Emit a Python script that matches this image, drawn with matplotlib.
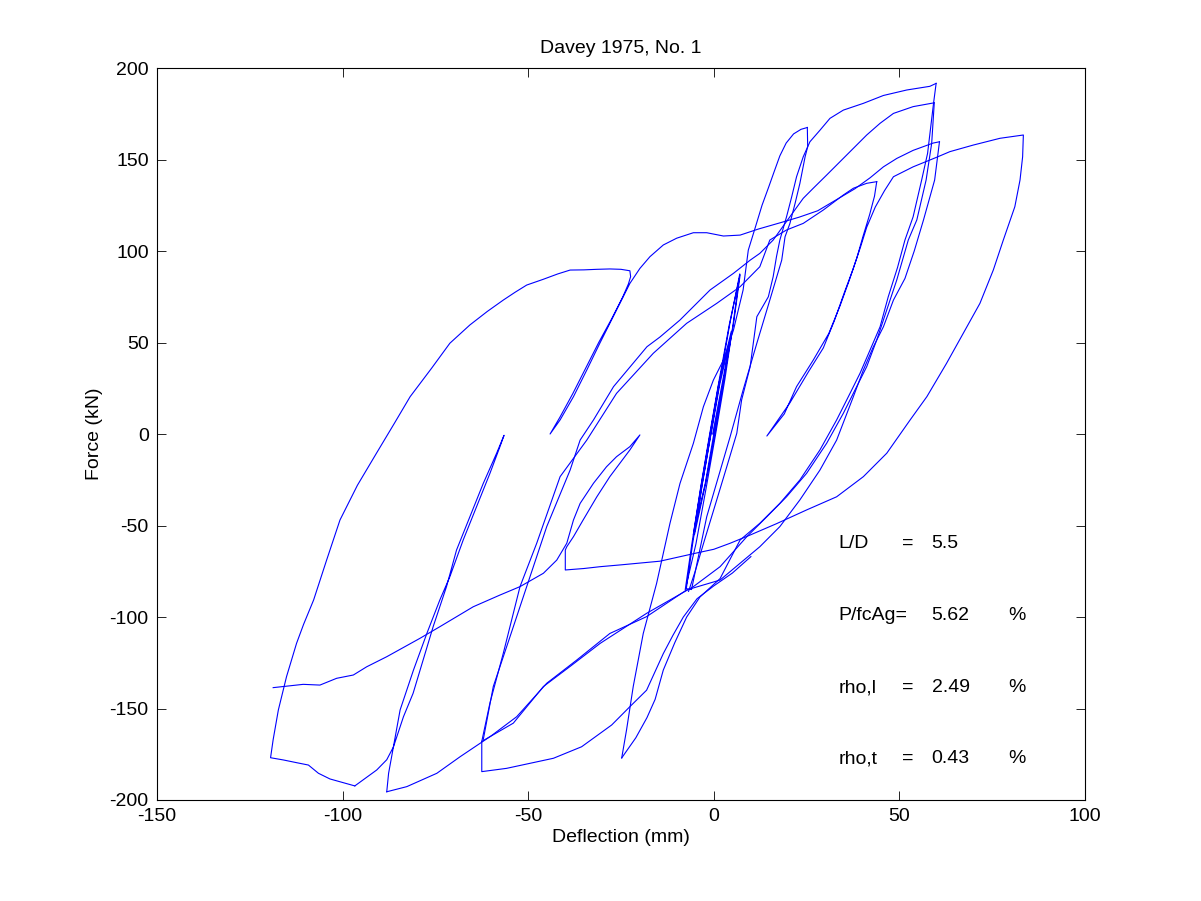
import matplotlib
matplotlib.use("Agg")
import matplotlib.pyplot as plt

plt.rcParams["font.family"] = ["Liberation Sans", "DejaVu Sans"]
plt.rcParams["font.size"] = 14
plt.rcParams["axes.unicode_minus"] = False

# hysteresis branches, deflection (mm) / force (kN)
# small cycles around the origin
small_x = [-0.3, 4.9, 1.6, -3.1, -5.2, -2.2, 0.3, 2.5, 4.7, 1.3, -1.0, -3.3, -5.5,
           -2.3, 0.0, 2.7, 5.3, 7.1, 4.2, 1.5, -1.1, -3.6, -5.9, -7.7, -4.8, -2.1,
           0.5, 3.0, 5.2, 7.0, 4.3, 1.7, -0.8, -3.3, -5.7, -7.4]
small_y = [0, 56, 27, -27, -55, -27, 0, 27, 56, 27, 0, -27, -55,
           -27, 0, 30, 60, 87, 60, 30, 0, -30, -60, -85.2, -60, -30,
           0, 30, 60, 87.5, 60, 30, 0, -30, -60, -84.5]

# load up to +25 mm
p25_up_x = [-7.4, -6.0, -1.9, 4.4, 7.9, 11.6, 15.1, 18.3, 19.2, 20.5, 21.9, 23.2,
            24.6, 25.3, 25.2]
p25_up_y = [-84.5, -85, -45.2, -1.5, 24, 49.6, 73.2, 95, 107.8, 115, 126, 137,
            151.5, 157, 167.5]

# unload from +25 down to -25
p25_dn_x = [25.2, 23.5, 21.5, 19.5, 17.8, 16.2, 14.8, 13.0, 11.2, 9.3, 7.9, 5.3, 2.6,
            -0.1, -2.8, -5.5, -9.1, -11.8, -15.4, -19.0, -21.7, -23.5, -24.8]
p25_dn_y = [167.5, 166.5, 164, 159, 152, 143, 135, 125, 113, 100.5, 78.7, 56.8, 40.4,
            29.5, 14.9, -5.1, -27, -48.8, -81.6, -109, -138, -161.7, -177]

# reload from -25 to the first +60 peak
m25_up_x = [-24.8, -21.0, -18.0, -15.8, -13.6, -10.5, -7.3, -3.7, 1.7, 4.5, 7.1, 12.4,
            17.8, 23.2, 28.6, 33.1, 36.7, 39.4, 42.1, 44.8, 47.0, 49.5, 51.5, 53.7,
            56.0, 57.6, 59.2, 59.9]
m25_up_y = [-177, -166, -155, -145, -129, -114, -100, -89, -79, -68, -57.9, -48.8,
            -37.9, -25.1, -8.7, 7.7, 22.2, 33.2, 45.9, 58.6, 75, 91, 106, 118.7,
            138.8, 153.4, 180.7, 191.6]

# unload from the first +60 peak
p60a_dn_x = [59.9, 58.2, 52.0, 45.7, 40.3, 34.9, 31.3, 28.6, 25.9, 24.1, 22.3, 21.0,
             19.6, 17.8, 16.9, 16.0, 14.7, 11.6, 9.8, 7.5, 6.2, 3.5, 0.8, -2.5, -5.0, -6.8]
p60a_dn_y = [191.6, 190, 188, 185, 180.7, 177, 172.5, 166, 159.7, 151.5, 140.6, 129.7,
             118.7, 106, 97, 86, 75, 64.1, 36.8, 18.6, 0.4, -17.9, -36, -58, -75, -86]

# second +60 peak, down to the -62 corner
p60b_dn_x = [59.4, 53.7, 48.4, 44.8, 41.2, 37.6, 34.0, 30.4, 26.8, 24.1, 20.5, 16.0,
             12.4, 9.8, 5.3, -1.0, -9.1, -14.5, -18.0, -27.0, -32.4, -36.0, -38.7,
             -45.0, -50.4, -54.9, -59.4, -62.1]
p60b_dn_y = [181, 178.9, 175.2, 169.8, 163.4, 156.1, 148.8, 141.5, 134.3, 128.8, 118.7,
             106, 98.7, 95, 87.8, 78.7, 62.3, 53, 47.7, 25.9, 7.7, -3.3, -19.7,
             -50.6, -83.4, -110.8, -138, -167]

# from the +44 peak down to the -62 corner
p44_dn_x = [43.9, 41.2, 37.6, 34.9, 29.5, 24.1, 19.6, 15.1, 12.4, 7.1, 0.8, -7.3,
            -16.3, -26.2, -34.2, -41.4, -47.7, -52.2, -56.7, -60.3, -62.5]
p44_dn_y = [137.9, 137, 134.3, 130.6, 122.4, 115.1, 111.5, 106, 91.4, 80.5, 71.4, 60.5,
            44.1, 22.2, -3.3, -23.3, -59.7, -83.4, -119.8, -147, -168]

# -62 corner: drop, then reload
m62_up_x = [-62.5, -62.5, -55.8, -43.2, -35.6, -27.5, -22.6, -18.1, -15.4, -13.6,
            -11.0, -8.2, -4.5, 0.0, 5.0, 10.0]
m62_up_y = [-168, -184.5, -182.7, -177.2, -170.9, -159, -149, -140, -128, -120,
            -110, -100, -90, -83, -76, -67]

# reload from the -62 corner to the second +60 peak
c62_up_x = [-62.5, -54.0, -45.9, -38.7, -30.6, -18.1, -5.5, 1.7, 8.9, 14.3, 19.6, 25.0,
            30.4, 34.9, 38.5, 41.2, 43.9, 46.6, 49.3, 52.4, 54.7, 57.2, 58.7, 59.4]
c62_up_y = [-168, -158, -138, -127, -114.4, -98, -83.4, -72.5, -56.1, -45.2, -34.3,
            -21.5, -5.1, 11.3, 25.9, 36.8, 51.4, 67.8, 84.2, 106, 117, 138.8, 158.8, 181]

# reload from -88 to the third +60 peak
m88_up_x = [-88.1, -82.7, -74.6, -68.3, -60.0, -53.1, -45.0, -36.9, -28.0, -18.1, -7.3,
            1.7, 7.1, 12.4, 17.8, 23.2, 28.6, 33.1, 37.6, 40.3, 43.0, 45.7, 48.4, 51.5,
            54.0, 56.5, 59.5, 60.8]
m88_up_y = [-195.5, -192.7, -185.4, -176.3, -165, -154.5, -136.2, -123.5, -109, -99.8,
            -85.2, -79.8, -70.6, -61.6, -50.6, -36, -19.7, -3.3, 20.4, 35, 47.7, 58.6,
            73.2, 85, 100, 117, 138.8, 159.7]

# third +60 peak, along the top, out to the -119 envelope
p60c_dn_x = [60.8, 59.1, 53.7, 49.3, 45.7, 42.1, 38.0, 33.0, 28.0, 23.0, 18.0, 12.0,
             7.1, 2.6, -1.9, -5.5, -10.0, -13.6, -17.2, -19.9, -22.6, -24.4, -27.1,
             -30.7, -34.2, -37.8, -41.4, -44.1, -41.5, -38.0, -34.5, -31.0, -27.5,
             -24.5, -23.0, -22.4, -22.6, -25.0, -28.0, -31.5, -35.0, -38.7, -42.0,
             -46.0, -50.4, -53.5, -56.7, -61.0, -65.7, -71.1, -76.0, -81.8, -86.0,
             -90.9, -96.0, -100.7, -104.3, -107.8, -110.5, -112.4, -115.1, -117.3,
             -118.7, -119.4, -116.0, -112.4, -109.2, -106.5, -103.4, -96.7]
p60c_dn_y = [159.7, 159, 155, 150.6, 146, 140, 134, 128, 122, 118.5, 115.5, 112,
             108.7, 108.2, 110, 110, 107, 103.3, 96.9, 90.5, 82.3, 75, 64.1,
             49.6, 35, 20.4, 7.7, 0, 9, 22, 36, 50, 63,
             75, 82, 86, 89.2, 90, 90.2, 90, 89.7, 89.6, 87.5,
             84.5, 81.4, 77.5, 73.2, 67, 59.6, 49.6, 36, 20.4, 6,
             -10.6, -28, -47, -68.9, -90.7, -104, -114.4, -132.6, -150.8,
             -167, -176.9, -178.1, -179.6, -180.9, -185.4, -188.5, -192.3]

# -96 up to zero force and back down to -88
m96_x = [-96.7, -90.8, -88.1, -86.3, -83.6, -81.0, -78.3, -75.6, -72.0, -69.3, -65.7,
         -62.1, -58.5, -56.5, -57.6, -60.3, -63.9, -67.5, -71.1, -73.8, -77.3, -80.9,
         -84.5, -86.3, -87.6, -88.1]
m96_y = [-192.3, -183.6, -178, -171, -154.5, -141.7, -123.5, -105.3, -83.4, -63.4, -45.2,
         -27, -10.5, -0.7, -6.9, -21.5, -39.7, -57.9, -78, -90.7, -109, -129,
         -150.8, -170.9, -185.4, -195.5]

# last cycle: +44, +83 and the final pull to -119
p83_x = [43.9, 43.3, 42.0, 40.2, 38.5, 36.5, 34.0, 31.0, 26.8, 22.3, 19.0, 14.3, 20.5,
         25.5, 29.5, 32.5, 35.3, 37.5, 39.5, 41.2, 43.5, 46.0, 48.4, 53.7, 60.0, 63.6,
         69.9, 77.1, 83.4, 83.2, 82.5, 81.1, 78.0, 75.3, 71.7, 67.2, 62.7, 57.4, 52.9,
         46.6, 40.3, 33.1, 25.0, 16.9, 9.8, 4.4, 0.0, -4.6, -14.5, -25.0, -30.6, -35.0,
         -40.0, -40.0, -39.6, -37.8, -35.2, -31.5, -28.0, -25.3, -22.6, -19.9, -22.6,
         -26.2, -28.9, -32.4, -36.0, -37.8, -39.6, -42.3, -45.9, -52.2, -57.6, -64.8,
         -73.8, -79.2, -88.1, -93.5, -97.1, -101.6, -106.1, -110.6, -116.0, -118.7]
p83_y = [137.9, 130, 120, 108, 96, 84, 70, 55, 40.4, 25.9, 11, -1.1, 17,
         34, 47, 62, 78, 90, 102, 113, 124, 133, 140.6, 146, 151.2, 154.3,
         157.9, 161.6, 163.4, 151.5, 138.8, 124.2, 106, 89.6, 71.4, 55, 38.6, 20.4, 7.7,
         -10.5, -23.3, -34.3, -41.5, -49, -55.2, -59.7, -63, -65, -69.5, -71.5, -72.5, -73.5,
         -74.3, -63.4, -61.6, -56.1, -47, -34.3, -23.3, -16, -8.7, -0.5, -6.9,
         -12.4, -17.9, -26.9, -37.9, -47, -59.7, -68.9, -76.1, -83.4, -88, -94.4,
         -105.3, -111.7, -121.7, -127.2, -131.7, -133.5, -137.2, -136.8, -138, -138.6]

branches = [
    (small_x, small_y), (p25_up_x, p25_up_y), (p25_dn_x, p25_dn_y),
    (m25_up_x, m25_up_y), (p60a_dn_x, p60a_dn_y), (p60b_dn_x, p60b_dn_y),
    (p44_dn_x, p44_dn_y), (m62_up_x, m62_up_y), (c62_up_x, c62_up_y),
    (m88_up_x, m88_up_y), (p60c_dn_x, p60c_dn_y), (m96_x, m96_y), (p83_x, p83_y),
]

labels = ["L/D", "P/fcAg=", "rho,l", "rho,t"]
values = ["5.5", "5.62", "2.49", "0.43"]
label_y = [-62.3, -101.6, -141.0, -179.8]

fig = plt.figure(figsize=(12.01, 9.01), dpi=100)
ax = fig.add_axes([0.1307, 0.1121, 0.7727, 0.8124])

for bx, by in branches:
    ax.plot(bx, by, color="#0000ff", lw=0.8)

for i in range(len(labels)):
    ax.text(33.5, label_y[i], labels[i], va="baseline")
    if labels[i] != "P/fcAg=":
        ax.text(50.8, label_y[i], "=", va="baseline")
    ax.text(58.7, label_y[i], values[i], va="baseline")
    if i > 0:
        ax.text(79.3, label_y[i], "%", va="baseline")

ax.set_xlim(-150, 100)
ax.set_ylim(-200, 200)
ax.set_xticks(range(-150, 101, 50))
ax.set_yticks(range(-200, 201, 50))
ax.tick_params(direction="in", length=6.5, width=0.6, top=True, right=True, pad=6)
for s in ax.spines.values():
    s.set_linewidth(0.8)

ax.set_title("Davey 1975, No. 1", fontsize=14, pad=11)
ax.set_xlabel("Deflection (mm)", labelpad=3)
ax.set_ylabel("Force (kN)", labelpad=5)

fig.savefig("out.png", dpi=100)
